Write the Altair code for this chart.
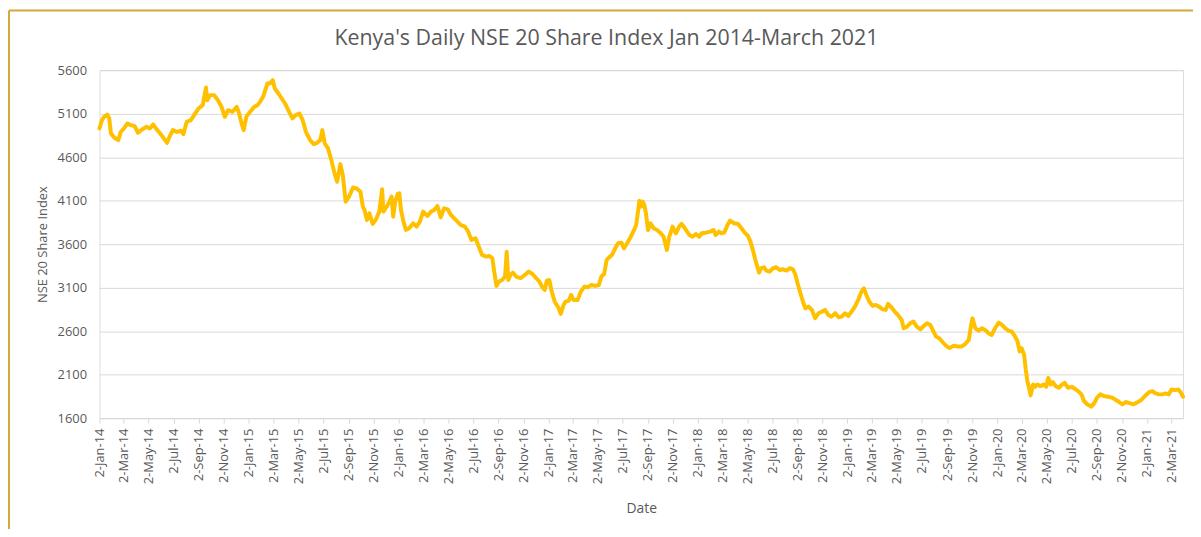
import altair as alt
import pandas as pd

# ---- data ----
dates14 = ["2014-01-02","2014-01-08","2014-01-12","2014-01-21","2014-01-26","2014-01-30","2014-02-07","2014-02-17","2014-02-23","2014-03-03","2014-03-11","2014-03-19","2014-03-29","2014-04-06","2014-04-16","2014-04-27","2014-05-05","2014-05-13","2014-05-23","2014-06-04","2014-06-16","2014-06-22","2014-06-30","2014-07-10","2014-07-20","2014-07-26","2014-08-03","2014-08-13","2014-08-21","2014-09-01","2014-09-11","2014-09-19","2014-09-22","2014-09-29","2014-10-09","2014-10-17","2014-10-27","2014-11-04","2014-11-12","2014-11-23","2014-12-03","2014-12-09","2014-12-15","2014-12-20","2014-12-27"]
values14 = [4930,5025,5056,5090,5045,4872,4826,4796,4891,4930,4987,4968,4957,4880,4918,4949,4930,4976,4911,4842,4765,4834,4911,4891,4903,4865,5006,5025,5083,5160,5198,5400,5255,5313,5313,5263,5179,5064,5140,5121,5179,5102,4987,4911,5071]

dates15 = ["2015-01-05","2015-01-15","2015-01-23","2015-01-29","2015-02-06","2015-02-16","2015-02-22","2015-03-01","2015-03-06","2015-03-15","2015-03-23","2015-03-31","2015-04-10","2015-04-18","2015-04-26","2015-05-05","2015-05-13","2015-05-21","2015-05-31","2015-06-09","2015-06-17","2015-06-25","2015-06-30","2015-07-06","2015-07-14","2015-07-22","2015-07-30","2015-08-05","2015-08-13","2015-08-19","2015-08-26","2015-09-03","2015-09-13","2015-09-22","2015-10-01","2015-10-07","2015-10-11","2015-10-17","2015-10-23","2015-10-31","2015-11-08","2015-11-16","2015-11-23","2015-11-26","2015-12-04","2015-12-11","2015-12-16","2015-12-20","2015-12-25","2015-12-31"]
values15 = [5121,5179,5198,5236,5301,5447,5447,5485,5389,5332,5274,5217,5121,5045,5083,5102,5025,4891,4796,4750,4765,4796,4911,4757,4700,4566,4413,4317,4520,4394,4087,4145,4252,4240,4202,4030,3993,3878,3954,3832,3886,3974,4230,3974,4031,4089,4146,3916,4089,4177]

dates16 = ["2016-01-04","2016-01-08","2016-01-14","2016-01-20","2016-01-28","2016-02-07","2016-02-15","2016-02-23","2016-03-02","2016-03-13","2016-03-21","2016-03-29","2016-04-06","2016-04-14","2016-04-22","2016-05-01","2016-05-09","2016-05-17","2016-05-25","2016-06-02","2016-06-12","2016-06-20","2016-06-28","2016-07-08","2016-07-16","2016-07-24","2016-08-03","2016-08-11","2016-08-18","2016-08-22","2016-08-28","2016-09-03","2016-09-11","2016-09-18","2016-09-22","2016-09-26","2016-10-01","2016-10-07","2016-10-15","2016-10-26","2016-11-05","2016-11-15","2016-11-24","2016-12-03","2016-12-11","2016-12-17","2016-12-24","2016-12-29"]
values16 = [4184,3993,3859,3763,3782,3840,3801,3859,3974,3924,3974,3993,4039,3908,4012,4000,3935,3897,3859,3820,3801,3744,3648,3667,3571,3476,3457,3464,3437,3303,3120,3169,3188,3227,3514,3188,3246,3273,3227,3208,3246,3284,3257,3208,3169,3112,3074,3181]

dates17 = ["2017-01-04","2017-01-09","2017-01-17","2017-01-27","2017-02-01","2017-02-08","2017-02-13","2017-02-21","2017-02-26","2017-03-04","2017-03-14","2017-03-22","2017-03-31","2017-04-08","2017-04-17","2017-04-25","2017-05-05","2017-05-11","2017-05-18","2017-05-24","2017-06-01","2017-06-06","2017-06-14","2017-06-21","2017-06-29","2017-07-05","2017-07-13","2017-07-22","2017-07-30","2017-08-04","2017-08-08","2017-08-12","2017-08-16","2017-08-20","2017-08-24","2017-08-28","2017-09-02","2017-09-08","2017-09-16","2017-09-24","2017-10-02","2017-10-10","2017-10-18","2017-10-24","2017-11-01","2017-11-09","2017-11-17","2017-11-23","2017-12-01","2017-12-12","2017-12-20","2017-12-28"]
values17 = [3188,3074,2940,2863,2798,2902,2940,2951,3016,2959,2959,3054,3112,3104,3131,3120,3131,3227,3257,3418,3457,3476,3552,3610,3617,3552,3610,3686,3763,3820,3954,4100,4031,4089,4050,3954,3763,3840,3782,3763,3732,3686,3533,3686,3801,3725,3801,3832,3782,3705,3686,3717]

dates18 = ["2018-01-05","2018-01-11","2018-01-21","2018-02-01","2018-02-09","2018-02-14","2018-02-22","2018-02-28","2018-03-07","2018-03-15","2018-03-21","2018-03-31","2018-04-10","2018-04-18","2018-04-26","2018-05-04","2018-05-10","2018-05-17","2018-05-22","2018-05-31","2018-06-05","2018-06-12","2018-06-18","2018-06-26","2018-07-04","2018-07-12","2018-07-20","2018-07-29","2018-08-06","2018-08-14","2018-08-22","2018-08-28","2018-09-02","2018-09-09","2018-09-15","2018-09-21","2018-09-29","2018-10-07","2018-10-15","2018-10-23","2018-11-01","2018-11-08","2018-11-16","2018-11-24","2018-12-03","2018-12-11","2018-12-19","2018-12-27"]
values18 = [3686,3725,3732,3744,3763,3705,3744,3725,3732,3820,3870,3840,3832,3782,3732,3694,3629,3514,3418,3273,3323,3334,3296,3284,3323,3334,3303,3311,3296,3323,3311,3246,3150,3035,2940,2863,2882,2844,2748,2806,2825,2844,2786,2767,2806,2760,2767,2806]

dates19 = ["2019-01-04","2019-01-12","2019-01-20","2019-01-28","2019-02-05","2019-02-11","2019-02-17","2019-02-24","2019-03-04","2019-03-12","2019-03-20","2019-03-28","2019-04-05","2019-04-11","2019-04-19","2019-04-27","2019-05-05","2019-05-14","2019-05-19","2019-05-27","2019-06-04","2019-06-12","2019-06-20","2019-06-29","2019-07-07","2019-07-15","2019-07-23","2019-07-29","2019-08-06","2019-08-14","2019-08-23","2019-08-31","2019-09-08","2019-09-17","2019-09-28","2019-10-08","2019-10-17","2019-10-25","2019-10-30","2019-11-03","2019-11-10","2019-11-18","2019-11-26","2019-12-04","2019-12-12","2019-12-20","2019-12-28"]
values19 = [2775,2825,2882,2959,3054,3093,3016,2940,2890,2901,2882,2851,2844,2913,2874,2825,2786,2728,2633,2652,2690,2709,2652,2621,2659,2690,2671,2614,2538,2519,2469,2431,2405,2431,2424,2424,2454,2500,2652,2747,2633,2606,2633,2614,2576,2557,2633]

dates20 = ["2020-01-06","2020-01-14","2020-01-22","2020-01-30","2020-02-07","2020-02-15","2020-02-21","2020-02-26","2020-03-02","2020-03-08","2020-03-12","2020-03-16","2020-03-20","2020-03-24","2020-03-30","2020-04-04","2020-04-09","2020-04-17","2020-04-25","2020-05-01","2020-05-06","2020-05-12","2020-05-17","2020-05-24","2020-06-01","2020-06-09","2020-06-15","2020-06-23","2020-07-02","2020-07-10","2020-07-18","2020-07-26","2020-08-01","2020-08-09","2020-08-19","2020-08-27","2020-09-02","2020-09-10","2020-09-18","2020-09-29","2020-10-09","2020-10-18","2020-10-26","2020-11-03","2020-11-11","2020-11-22","2020-11-30","2020-12-08","2020-12-19","2020-12-28"]
values20 = [2697,2671,2633,2606,2595,2538,2481,2367,2405,2329,2158,2025,1949,1861,1987,1960,1987,1968,1987,1960,2063,1987,2013,1968,1949,1987,2006,1949,1960,1937,1911,1873,1797,1759,1732,1778,1835,1873,1854,1846,1835,1808,1785,1759,1785,1770,1759,1778,1808,1854]

dates21 = ["2021-01-07","2021-01-15","2021-01-23","2021-01-31","2021-02-08","2021-02-16","2021-02-24","2021-03-03","2021-03-11","2021-03-19","2021-03-25","2021-03-31"]
values21 = [1899,1911,1884,1873,1873,1884,1873,1930,1922,1930,1899,1846]

tick_dates = ["2014-01-02","2014-03-02","2014-05-02","2014-07-02","2014-09-02","2014-11-02",
              "2015-01-02","2015-03-02","2015-05-02","2015-07-02","2015-09-02","2015-11-02",
              "2016-01-02","2016-03-02","2016-05-02","2016-07-02","2016-09-02","2016-11-02",
              "2017-01-02","2017-03-02","2017-05-02","2017-07-02","2017-09-02","2017-11-02",
              "2018-01-02","2018-03-02","2018-05-02","2018-07-02","2018-09-02","2018-11-02",
              "2019-01-02","2019-03-02","2019-05-02","2019-07-02","2019-09-02","2019-11-02",
              "2020-01-02","2020-03-02","2020-05-02","2020-07-02","2020-09-02","2020-11-02",
              "2021-01-02","2021-03-02"]
y_ticks = [1600, 2100, 2600, 3100, 3600, 4100, 4600, 5100, 5600]
x_domain = ["2014-01-02", "2021-03-31"]

TITLE = "Kenya's Daily NSE 20 Share Index Jan 2014-March 2021"
FONT = "Open Sans"
GREY = "#595959"
GRID = "#d9d9d9"
GOLD = "#D4A83C"
LINE = "#FFC000"


def dt(s):
    return alt.DateTime(year=int(s[:4]), month=int(s[5:7]), date=int(s[8:10]), utc=True)


dates = dates14 + dates15 + dates16 + dates17 + dates18 + dates19 + dates20 + dates21
values = values14 + values15 + values16 + values17 + values18 + values19 + values20 + values21
df = pd.DataFrame({"Date": dates, "Index": values})

x_axis = alt.Axis(
    values=[dt(s) for s in tick_dates], format="%-d-%b-%y",
    labelAngle=270, labelAlign="right", labelBaseline="middle",
    labelFont=FONT, labelFontSize=13, labelColor=GREY, labelPadding=5,
    labelOverlap=False, labelFlush=False,
    tickColor=GRID, tickSize=5, domainColor=GRID, grid=False,
    title="Date", titleFont=FONT, titleFontSize=14, titleFontWeight="normal",
    titleColor=GREY, titlePadding=18,
)
y_axis = alt.Axis(
    values=y_ticks, format="d", grid=True, gridColor=GRID, domain=False,
    ticks=False, tickSize=0, labelPadding=13, labelFont=FONT, labelFontSize=13,
    labelColor=GREY, title="NSE 20 Share Index", titleFont=FONT, titleFontSize=13,
    titleFontWeight="normal", titleColor=GREY, titlePadding=8,
)

line = alt.Chart(df).mark_line(
    color=LINE, strokeWidth=4, strokeJoin="round", strokeCap="round"
).encode(
    x=alt.X("Date:T", scale=alt.Scale(type="utc", domain=[dt(s) for s in x_domain], nice=False), axis=x_axis),
    y=alt.Y("Index:Q", scale=alt.Scale(domain=[y_ticks[0], y_ticks[-1]], nice=False, zero=False), axis=y_axis),
)

frame_df = pd.DataFrame({"k": [0]})
frame_left = alt.Chart(frame_df).mark_rule(color=GOLD, strokeWidth=2).encode(
    x=alt.value(-91), y=alt.value(-60), y2=alt.value(470)
)
frame_top = alt.Chart(frame_df).mark_rule(color=GOLD, strokeWidth=2).encode(
    x=alt.value(-91), x2=alt.value(1100), y=alt.value(-60)
)

chart = alt.layer(line, frame_left, frame_top).properties(
    width=1090,
    height=350,
    padding={"left": 92, "top": 61, "right": 10, "bottom": 110},
    autosize=alt.AutoSizeParams(type="none"),
    title=alt.TitleParams(
        text=TITLE, font=FONT, fontSize=21.5, fontWeight="normal", color=GREY,
        anchor="middle", dx=-35, dy=50, offset=10,
    ),
).configure_view(stroke=None).configure(background="white")

chart.save("out.html", embed_options={"renderer": "svg", "actions": False})
